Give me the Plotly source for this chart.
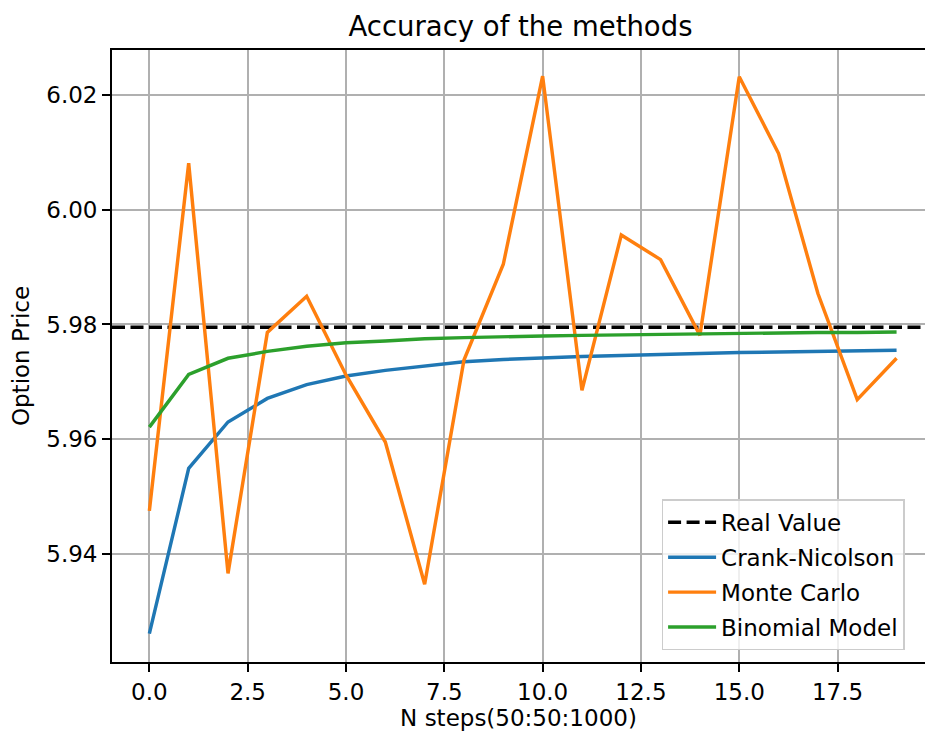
import plotly.graph_objects as go

# Option price convergence for N = 50, 100, ..., 1000 steps (index 0..19)
steps = list(range(20))
real_value = 5.9795

crank_nicolson = [5.9261, 5.9549, 5.9630, 5.9671, 5.9695, 5.9710, 5.9720, 5.9728,
                  5.9735, 5.9739, 5.9742, 5.9744, 5.9746, 5.9748, 5.9750, 5.9751,
                  5.9752, 5.9753, 5.9754, 5.9755]

monte_carlo = [5.9475, 6.0081, 5.9366, 5.9786, 5.9849, 5.9712, 5.9595, 5.9347,
               5.9738, 5.9905, 6.0233, 5.9685, 5.9956, 5.9913, 5.9781, 6.0232,
               6.0098, 5.9854, 5.9669, 5.9741]

binomial = [5.9621, 5.9713, 5.9741, 5.9753, 5.9762, 5.9768, 5.9771, 5.9775,
            5.9777, 5.9779, 5.9780, 5.9781, 5.9782, 5.9783, 5.9784, 5.9785,
            5.9785, 5.9786, 5.9786, 5.9787]

x_ticks = [0, 2.5, 5, 7.5, 10, 12.5, 15, 17.5]
y_ticks = [5.94, 5.96, 5.98, 6.00, 6.02]

x_range = [-0.95, 19.95]
x_view = [-0.95, 19.723]
y_view = [5.92115, 6.02785]

FONT = "DejaVu Sans"
LW = 3.45

fig = go.Figure()

# reference (analytic) value, spanning the whole x extent
fig.add_trace(go.Scatter(x=x_range, y=[real_value, real_value], mode="lines",
                         name="Real Value", legendgroup="rv",
                         line=dict(color="black", width=LW, dash="13px,5.5px")))

series = [("Crank-Nicolson", crank_nicolson, "#1f77b4"),
          ("Monte Carlo", monte_carlo, "#ff7f0e"),
          ("Binomial Model", binomial, "#2ca02c")]
for name, vals, col in series:
    fig.add_trace(go.Scatter(x=steps, y=vals, mode="lines", name=name,
                             line=dict(color=col, width=LW), legendgroup=name))

axis_common = dict(showgrid=True, gridcolor="#b0b0b0", gridwidth=1.8,
                   showline=True, linecolor="black", linewidth=1.8,
                   ticks="outside", ticklen=8, tickwidth=1.8, tickcolor="black",
                   zeroline=False, automargin=False,
                   tickfont=dict(family=FONT, size=23, color="black"))

fig.update_xaxes(range=x_view, tickvals=x_ticks, tickformat=".1f",
                 mirror=True,
                 title=dict(text="N steps(50:50:1000)", standoff=8,
                            font=dict(family=FONT, size=23, color="black")),
                 **axis_common)
fig.update_yaxes(range=y_view, tickvals=y_ticks, tickformat=".2f",
                 title=dict(text="Option Price", standoff=10,
                            font=dict(family=FONT, size=23, color="black")),
                 **axis_common)

fig.update_layout(
    width=925, height=731,
    margin=dict(l=112, r=0, t=50, b=69),
    plot_bgcolor="white", paper_bgcolor="white",
    font=dict(family=FONT, size=23, color="black"),
    title=dict(text="Accuracy of the methods", x=0.5627, xanchor="center",
               y=1 - 26 / 731, yanchor="middle", yref="container",
               font=dict(family=FONT, size=27.5, color="black")),
    legend=dict(x=0.676, y=0.019, xanchor="left", yanchor="bottom",
                bgcolor="rgba(255,255,255,0.8)", bordercolor="#cccccc",
                borderwidth=1.5, tracegroupgap=2, itemwidth=48,
                font=dict(family=FONT, size=23, color="black")),
)

fig.write_html("out.html")
